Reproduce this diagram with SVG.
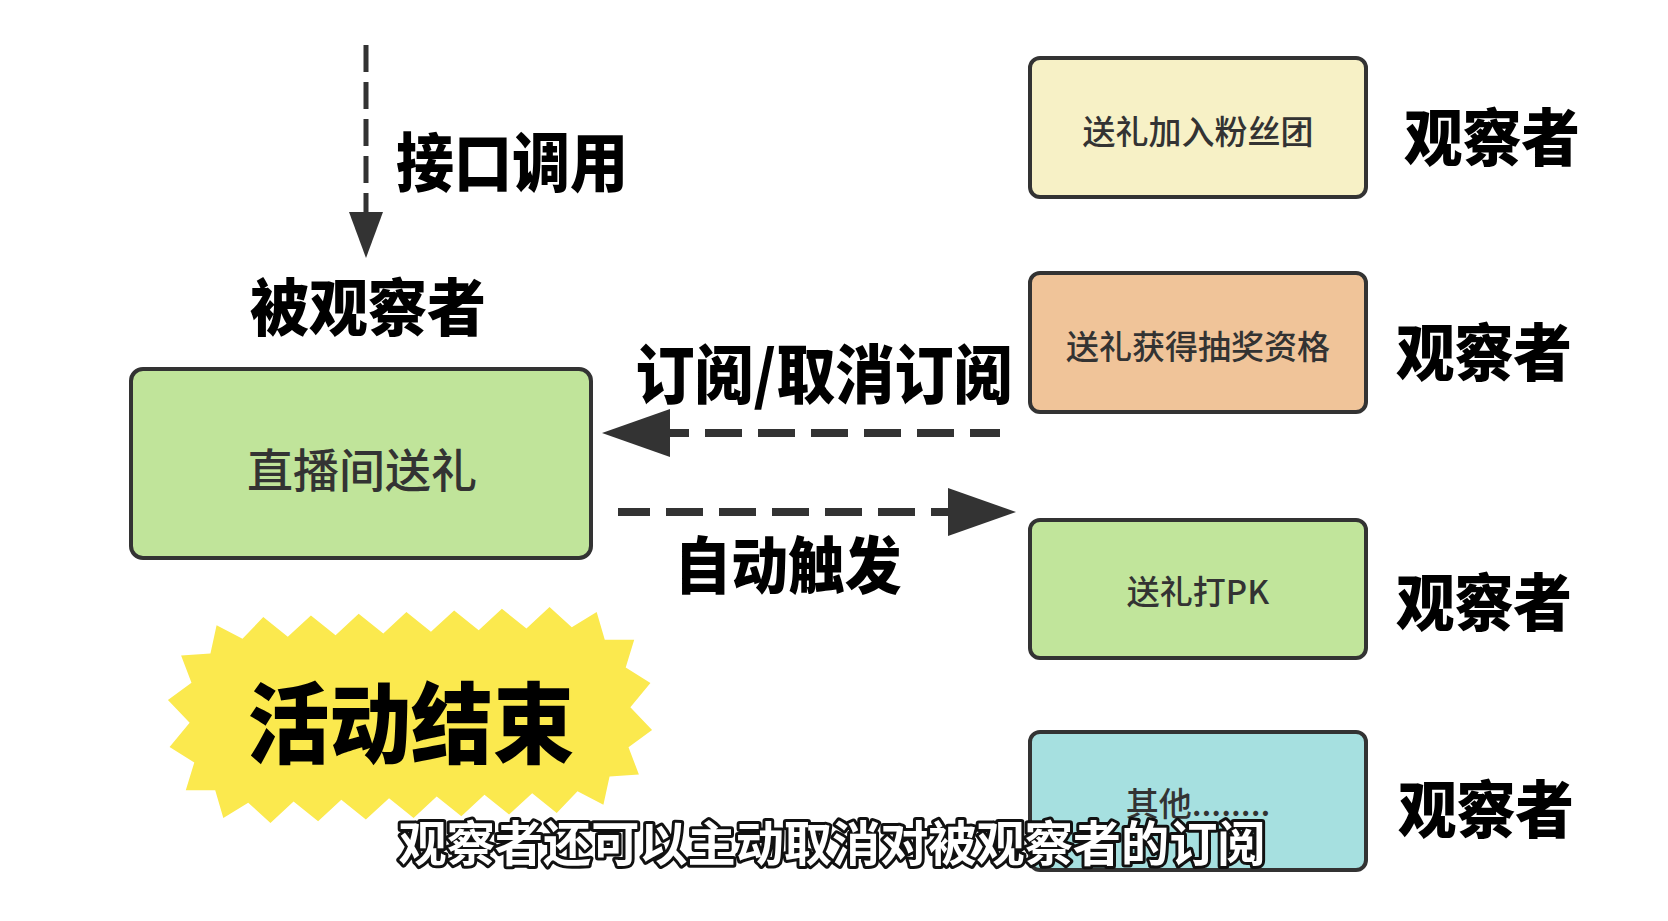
<svg xmlns="http://www.w3.org/2000/svg" width="1668" height="921" viewBox="0 0 1668 921">
<style>
.box{stroke:#333;stroke-width:4}
.bt{font-family:"Noto Sans CJK SC","Noto Sans",sans-serif;font-size:33px;font-weight:500;fill:#333;text-anchor:middle;dominant-baseline:central}
.hv{font-family:"Noto Sans CJK SC",sans-serif;font-weight:900;fill:#000;text-anchor:middle;dominant-baseline:central}
.dash{stroke:#333;fill:none}
.head{fill:#333}
.sub{font-family:"Noto Sans CJK SC",sans-serif;font-weight:700;font-size:48px;fill:#fff;stroke:#111;stroke-width:6;stroke-linejoin:round;paint-order:stroke;text-anchor:middle;dominant-baseline:central}
</style>
<rect width="1668" height="921" fill="#fff"/>
<g id="connectors">
<line class="dash" x1="366" y1="45" x2="366" y2="214" stroke-width="5" stroke-dasharray="27 10"/>
<polygon class="head" points="349,212 383,212 366,258"/>
<line class="dash" x1="1000" y1="433" x2="668" y2="433" stroke-width="8" stroke-dasharray="37 16" stroke-dashoffset="7"/>
<polygon class="head" points="602,433 670,409 670,457"/>
<line class="dash" x1="618" y1="512" x2="952" y2="512" stroke-width="8" stroke-dasharray="37 16" stroke-dashoffset="5"/>
<polygon class="head" points="1016,512 948,488 948,536"/>
</g>
<g id="label-call"><text class="hv" x="512" y="158" font-size="64" textLength="232" lengthAdjust="spacingAndGlyphs">接口调用</text></g>
<g id="label-subject"><text class="hv" x="368" y="304" font-size="62" textLength="236" lengthAdjust="spacingAndGlyphs">被观察者</text></g>
<g id="subject">
<rect class="box" x="131" y="369" width="460" height="189" rx="12" fill="#c0e49a"/>
<text class="bt" x="362" y="467" style="font-size:46px">直播间送礼</text>
</g>
<g id="label-sub"><text class="hv" x="824" y="370" font-size="64" textLength="377" lengthAdjust="spacingAndGlyphs">订阅/取消订阅</text></g>
<g id="label-auto"><text class="hv" x="788" y="562" font-size="62" textLength="227" lengthAdjust="spacingAndGlyphs">自动触发</text></g>
<g id="burst">
<polygon fill="#fbe94e" transform="rotate(-2 410 715) translate(410 715) scale(1.05 1.03) translate(-410 -715)" points="410,615 432.7,635 455.5,615 478.2,635 501,615 523.7,635 546.4,615 566.9,635.4 591.1,621.3 597.9,648.5 625.9,649.6 616.9,676.2 639.9,692.2 620,715 639.9,737.8 616.9,753.8 625.9,780.4 597.9,781.5 591.1,808.7 566.9,794.6 546.4,815 523.7,795 501,815 478.2,795 455.5,815 432.7,795 410,815 387.3,795 364.5,815 341.8,795 319,815 296.3,795 273.6,815 253.1,794.6 228.9,808.7 222.1,781.5 194.1,780.4 203.1,753.8 180.1,737.8 200,715 180.1,692.2 203.1,676.2 194.1,649.6 222.1,648.5 228.9,621.3 253.1,635.4 273.6,615 296.3,635 319,615 341.8,635 364.5,615 387.3,635"/>
<text class="hv" x="411" y="717" font-size="88" textLength="327" lengthAdjust="spacingAndGlyphs">活动结束</text>
</g>
<g id="observer1">
<rect class="box" x="1030" y="58" width="336" height="139" rx="10" fill="#f7f1c6"/>
<text class="bt" x="1198" y="130">送礼加入粉丝团</text>
<text class="hv" x="1492" y="134" font-size="62" textLength="176" lengthAdjust="spacingAndGlyphs">观察者</text>
</g>
<g id="observer2">
<rect class="box" x="1030" y="273" width="336" height="139" rx="10" fill="#f0c499"/>
<text class="bt" x="1198" y="345">送礼获得抽奖资格</text>
<text class="hv" x="1484" y="349" font-size="62" textLength="176" lengthAdjust="spacingAndGlyphs">观察者</text>
</g>
<g id="observer3">
<rect class="box" x="1030" y="520" width="336" height="138" rx="10" fill="#c1e59b"/>
<text class="bt" x="1198" y="590">送礼打PK</text>
<text class="hv" x="1484" y="599" font-size="62" textLength="176" lengthAdjust="spacingAndGlyphs">观察者</text>
</g>
<g id="observer4">
<rect class="box" x="1030" y="732" width="336" height="138" rx="10" fill="#a6e0e0"/>
<text class="bt" x="1198" y="802">其他........</text>
<text class="hv" x="1486" y="806" font-size="62" textLength="176" lengthAdjust="spacingAndGlyphs">观察者</text>
</g>
<g id="subtitle"><text class="sub" x="832" y="840" textLength="867" lengthAdjust="spacingAndGlyphs">观察者还可以主动取消对被观察者的订阅</text></g>
</svg>
